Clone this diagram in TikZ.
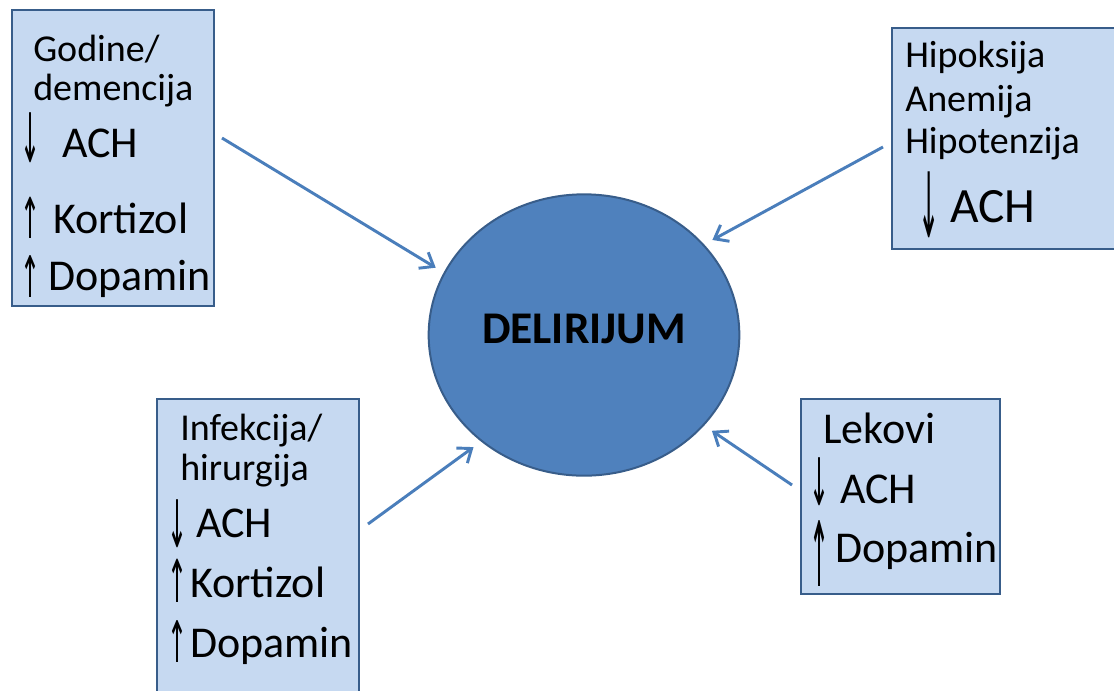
\documentclass[tikz,border=0pt]{standalone}
\usepackage{fontspec}
\setmainfont{Carlito}
\newfontfamily\symf{DejaVu Sans}
\usetikzlibrary{arrows.meta,shapes.geometric}

\definecolor{boxfill}{HTML}{C6D9F1}
\definecolor{boxline}{HTML}{385D8A}
\definecolor{ballfill}{HTML}{4F81BD}
\definecolor{arrline}{HTML}{4A7EBB}

% tall thin arrow glyph: width, total height, glyph
\newcommand{\garr}[3]{\resizebox*{#1}{#2}{\symf #3}}

\tikzset{
	cause/.style={draw=boxline, fill=boxfill, line width=1.5pt},
	txt/.style={anchor=base west, inner sep=0pt, font=\fontsize{28.5}{34}\selectfont},
	big/.style={anchor=base west, inner sep=0pt, font=\fontsize{33}{40}\selectfont},
	glyph/.style={inner sep=0pt},
	arr/.style={-{Straight Barb[length=9pt,width=14pt]}, draw=arrline, line width=2.2pt, shorten >=7pt},
}

\begin{document}
\begin{tikzpicture}[x=0.75pt, y=-0.75pt]
	
	\useasboundingbox (0,0) rectangle (1114,690);
	
	\draw[cause] (12,10) rectangle (214,306);
	\draw[cause] (892,28) rectangle (1117,249);
	\draw[cause] (157,399) rectangle (359,693);
	\draw[cause] (801,399) rectangle (1000,594);
	
	\node[shape=ellipse, draw=boxline, fill=ballfill, line width=1.5pt, minimum width=233pt, minimum height=211pt, inner sep=0pt, text height=20pt, text depth=8pt, font=\fontsize{34}{40}\selectfont\bfseries] (delir) at (584,335) {DELIRIJUM};
	
	% Godine / demencija
	\node[txt] (godine) at (33,61)  {Godine/};
	\node[txt] (demenc) at (33,100) {demencija};
	\node[big] (ach1)   at (62,157) {ACH};
	\node[big] (kort1)  at (53,233) {Kortizol};
	\node[big] (dop1)   at (48,290) {Dopamin};
	\node[glyph] (dn1)  at (31,137.5) {\garr{15pt}{37.5pt}{↓}};
	\node[glyph] (up1)  at (31,217.5) {\garr{15pt}{31pt}{↑}};
	\node[glyph] (up2)  at (31,276)   {\garr{15pt}{31.5pt}{↑}};
	
	% Hipoksija
	\node[txt] (hipoks) at (905,67)  {Hipoksija};
	\node[txt] (anem)   at (905,111) {Anemija};
	\node[txt] (hipot)  at (905,153) {Hipotenzija};
	\node[big, font=\fontsize{37}{44}\selectfont] (ach2) at (950,222) {ACH};
	\node[glyph] (dn2)  at (929,205) {\garr{16pt}{49.5pt}{↓}};
	
	% Infekcija / hirurgija
	\node[txt] (infek)  at (180,440) {Infekcija/};
	\node[txt] (hirur)  at (180,480) {hirurgija};
	\node[big] (ach3)   at (196,537) {ACH};
	\node[big] (kort3)  at (190,597) {Kortizol};
	\node[big] (dop3)   at (190,657) {Dopamin};
	\node[glyph] (dn3)  at (177,524) {\garr{15pt}{36pt}{↓}};
	\node[glyph] (up3)  at (177,581) {\garr{15pt}{32.5pt}{↑}};
	\node[glyph] (up4)  at (177,641) {\garr{15pt}{31.5pt}{↑}};
	
	% Lekovi
	\node[big] (lekovi) at (823,443) {Lekovi};
	\node[big] (ach4)   at (840,503) {ACH};
	\node[big] (dop4)   at (835,562) {Dopamin};
	\node[glyph] (dn4)  at (819,482) {\garr{15pt}{36pt}{↓}};
	\node[glyph] (up5)  at (819,553) {\garr{15pt}{49.5pt}{↑}};
	
	\coordinate (s1) at (222,138);
	\coordinate (s2) at (883,147);
	\coordinate (s3) at (368,524);
	\coordinate (s4) at (792,485);
	
	\path (s1) edge[arr] (delir.156);
	\path (s2) edge[arr] (delir.37);
	\path (s3) edge[arr] (delir.226);
	\path (s4) edge[arr] (delir.-37);
	
\end{tikzpicture}
\end{document}
